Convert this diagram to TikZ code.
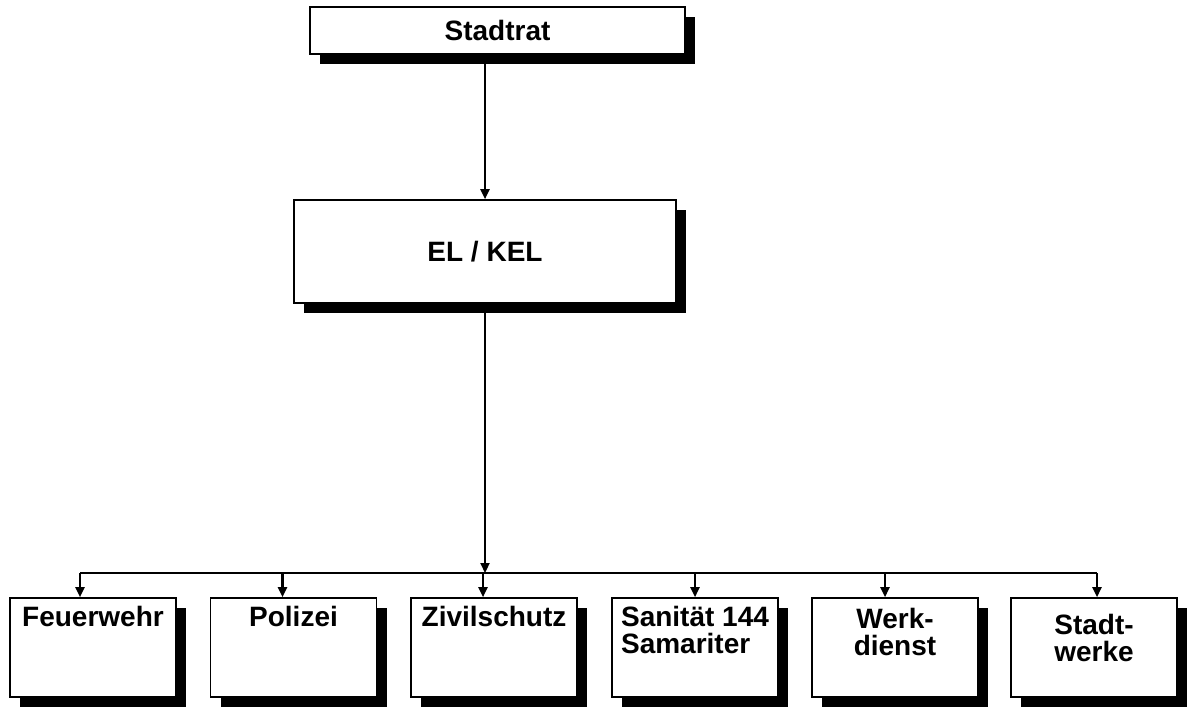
\documentclass[tikz,border=0pt]{standalone}
\usepackage{fontspec}
\setmainfont{Liberation Sans}
\usetikzlibrary{arrows.meta,shadows}

\tikzset{
	orgbox/.style={draw,line width=0.8pt,fill=white,
		drop shadow={shadow xshift=5pt,shadow yshift=-5pt,fill=black,opacity=1}},
	unitbox/.style={orgbox,minimum width=83pt,minimum height=49.5pt},
	arr/.style={line width=1.1pt,-{Triangle[length=5pt,width=4.5pt]}}
}

\begin{document}
\begin{tikzpicture}[x=0.5pt,y=0.5pt,font=\fontsize{14}{13.5}\selectfont\bfseries]
	\useasboundingbox (0,0) rectangle (1187,709);

	% Top boxes
	\node[orgbox,minimum width=187.5pt,minimum height=23.5pt] (rat) at (497.5,678.5) {Stadtrat};
	\node[orgbox,minimum width=191pt,minimum height=51.5pt] (el) at (485,457.5) {EL / KEL};

	% Units
	\node[unitbox,label={[anchor=north,yshift=-1pt]north:Feuerwehr}] (fw) at (93,61.5) {};
	\node[unitbox,label={[anchor=north,yshift=-1pt]north:Polizei}] (pol) at (293.5,61.5) {};
	\node[unitbox,label={[anchor=north,yshift=-1pt]north:Zivilschutz}] (zs) at (494,61.5) {};
	\node[unitbox,label={[anchor=north,yshift=-1pt,align=left]north:Sanität 144\\Samariter}] (san) at (695,61.5) {};
	\node[unitbox,label={[anchor=north,yshift=-2pt,align=center]north:Werk-\\dienst}] (wd) at (895,61.5) {};
	\node[unitbox,label={[anchor=north,yshift=-5pt,align=center]north:Stadt-\\werke}] (sw) at (1094,61.5) {};

	% Connections
	\coordinate (bus) at (485,136);
	\draw[arr] (el.north |- rat.south) -- (el.north);
	\draw[arr] (el.south) -- (el.south |- bus);
	\draw[line width=1.1pt] ([xshift=-6.5pt]fw.north |- bus) -- ([xshift=1.5pt]sw.north |- bus);
	\foreach \n/\s in {fw/-6.5,pol/-5.5,zs/-5.5,san/0,wd/-5,sw/1.5}
		\draw[arr] ([xshift=\s pt]\n.north |- bus) -- ([xshift=\s pt]\n.north);

\end{tikzpicture}
\end{document}
